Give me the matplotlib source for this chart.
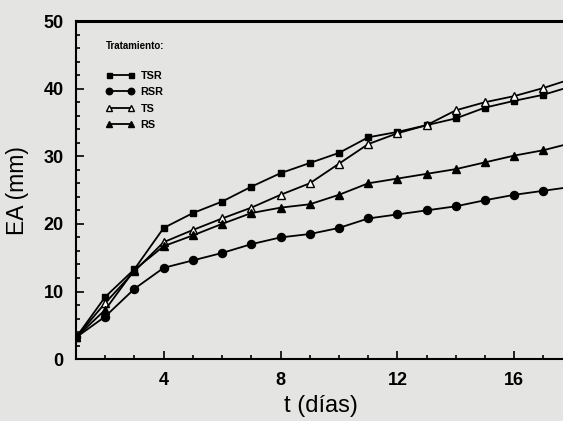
import matplotlib.pyplot as plt
from matplotlib.ticker import MultipleLocator, FixedLocator
from matplotlib.transforms import blended_transform_factory

# Days (t) and accumulated evaporation EA (mm) for each treatment
dias = [1, 2, 3, 4, 5, 6, 7, 8, 9, 10, 11, 12, 13, 14, 15, 16, 17, 18]
tsr = [3.2, 9.2, 13.3, 19.4, 21.6, 23.3, 25.5, 27.5, 29.0, 30.5, 32.8, 33.6, 34.6, 35.6, 37.2, 38.2, 39.1, 40.4]
rsr = [3.2, 6.3, 10.4, 13.5, 14.6, 15.7, 17.0, 18.0, 18.5, 19.4, 20.8, 21.4, 22.0, 22.6, 23.5, 24.3, 24.9, 25.5]
ts = [3.2, 8.3, 13.0, 17.3, 19.1, 20.8, 22.4, 24.3, 26.0, 28.9, 31.8, 33.4, 34.6, 36.8, 38.0, 38.9, 40.1, 41.5]
rs = [3.2, 7.3, 13.2, 16.7, 18.3, 20.0, 21.6, 22.4, 22.9, 24.3, 26.0, 26.7, 27.4, 28.1, 29.1, 30.1, 30.9, 32.0]
xticks = [4, 8, 12, 16]

bg = '#e4e4e2'
plt.rcParams['font.family'] = ['Liberation Sans', 'DejaVu Sans']

fig = plt.figure(figsize=(5.63, 4.21), dpi=100, facecolor=bg)
# axes run past the right edge, as in the cropped scan
ax = fig.add_axes([0.135, 0.147, 0.986, 0.803], facecolor=bg)

lw = 1.3
ax.plot(dias, tsr, color='black', lw=lw, marker='s', ms=4.5, label='TSR')
ax.plot(dias, rsr, color='black', lw=lw, marker='o', ms=5.8, label='RSR')
ax.plot(dias, ts, color='black', lw=lw, marker='^', ms=5.2, mfc='white', mew=1.0, label='TS')
ax.plot(dias, rs, color='black', lw=lw, marker='^', ms=5.2, label='RS')

ax.set_xlim(1, 20)
ax.set_ylim(0, 50)
ax.xaxis.set_major_locator(FixedLocator(xticks))
ax.xaxis.set_minor_locator(MultipleLocator(1))
ax.yaxis.set_major_locator(MultipleLocator(10))
ax.yaxis.set_minor_locator(MultipleLocator(2))
ax.tick_params(which='both', direction='in', width=1.2, top=False, right=False)
ax.tick_params(which='major', length=6, labelsize=13, pad=9)
ax.tick_params(which='minor', length=3)
for lab in ax.get_xticklabels() + ax.get_yticklabels():
    lab.set_fontweight('bold')

ax.spines['right'].set_visible(False)
ax.spines['top'].set_linewidth(2.2)
ax.spines['left'].set_linewidth(1.5)
ax.spines['bottom'].set_linewidth(1.5)

ax.set_xlabel('t (días)', fontsize=17)
ax.xaxis.set_label_coords(9.4, -0.105, transform=blended_transform_factory(ax.transData, ax.transAxes))
ax.set_ylabel('EA (mm)', fontsize=16.5)
ax.yaxis.set_label_coords(-0.085, 0.5)

leg = ax.legend(loc='upper left', bbox_to_anchor=(0.054, 0.94), frameon=False,
                numpoints=2, markerscale=0.8, handlelength=2.6, handletextpad=0.6,
                labelspacing=0.6, borderpad=0, borderaxespad=0,
                title='Tratamiento:', alignment='left',
                prop={'size': 7.8, 'weight': 'bold'},
                title_fontproperties={'size': 7, 'weight': 'bold'})
leg._legend_box.sep = 14

fig.savefig('out.png', dpi=100, facecolor=bg)
